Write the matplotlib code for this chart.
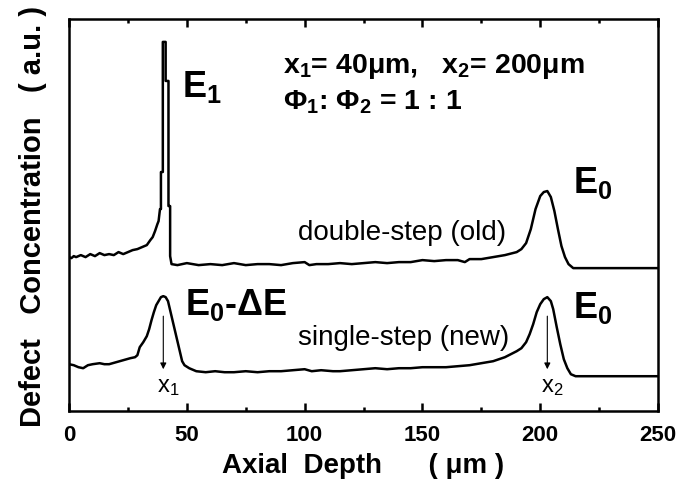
import numpy as np
import matplotlib.pyplot as plt
from matplotlib.ticker import MultipleLocator

plt.rcParams['font.family'] = ['Liberation Sans', 'DejaVu Sans']
plt.rcParams['mathtext.fontset'] = 'custom'
plt.rcParams['mathtext.rm'] = 'Liberation Sans'
plt.rcParams['mathtext.bf'] = 'Liberation Sans:bold'
plt.rcParams['mathtext.it'] = 'Liberation Sans:italic'

# double-step (old) profile (a.u.)
old_x = [0, 1, 2, 3, 5, 7, 9, 11, 13, 15, 17, 19, 21, 23, 25, 27, 29, 31, 33,
         34.5, 35.5, 36.5, 37.5, 38, 38.6, 39, 39, 39.8, 39.8, 41, 41, 42.2, 42.2,
         42.9, 42.9, 43.5, 46, 50, 55, 60, 65, 70, 75, 80, 85, 90, 95, 100, 102,
         105, 110, 115, 120, 125, 130, 135, 140, 145, 150, 155, 160, 165, 168, 170,
         175, 180, 185, 190, 192, 194, 196, 198, 200, 201.5, 203, 204.5, 206, 207.5,
         209, 210.5, 212, 214, 250]
old_y = [154, 153, 155, 154, 156, 154, 157, 155, 158, 156, 157, 156, 159, 157, 159,
         161, 162, 164, 166, 171, 174, 180, 187, 190, 202, 202, 239, 239, 369, 369,
         330, 330, 205, 205, 155, 147, 146, 148, 146, 147, 146, 148, 146, 147, 147,
         146, 148, 149, 146, 147, 147, 148, 147, 148, 149, 148, 149, 149, 151, 150,
         151, 151, 149, 152, 152, 154, 156, 159, 162, 168, 182, 202, 215, 219, 220,
         214, 200, 182, 165, 154, 147, 143, 143]

# single-step (new) profile
new_x = [0, 2, 4, 6, 8, 10, 13, 15, 17, 20, 23, 26, 28, 29, 30, 31.5, 33, 34, 35,
         36, 37, 38, 39, 40, 41, 42, 43, 44, 45, 46, 47, 48, 49, 51, 54, 58, 62, 66,
         70, 75, 80, 85, 90, 95, 100, 103, 107, 112, 115, 120, 125, 130, 135, 140,
         145, 150, 155, 160, 165, 170, 175, 180, 185, 190, 192, 194, 195.5, 197,
         198.5, 200, 201.5, 203, 204.5, 205.5, 207, 208.5, 210, 211.5, 213, 215, 250]
new_y = [47, 46, 44, 43, 46, 47, 48, 47, 47, 49, 51, 53, 54, 56, 64, 69, 75, 82, 91,
         99, 106, 110, 114, 115, 114, 110, 100, 90, 80, 70, 60, 50, 46, 43, 40, 39,
         40, 39, 39, 40, 39, 40, 40, 41, 42, 40, 41, 40, 40, 41, 42, 43, 42, 43, 43,
         44, 44, 44, 45, 46, 48, 50, 54, 60, 63, 69, 77, 87, 99, 107, 112, 114, 110,
         102, 84, 67, 52, 43, 37, 35, 35]

x_marks = [40, 203]
x_mark_labels = ['$\\mathrm{x_1}$', '$\\mathrm{x_2}$']

fig = plt.figure(figsize=(6.77, 4.85), dpi=100)
ax = fig.add_axes([0.102, 0.150, 0.870, 0.809])

ax.plot(old_x, old_y, color='black', lw=1.8)
ax.plot(new_x, new_y, color='black', lw=1.8)

for xm, lab in zip(x_marks, x_mark_labels):
    ax.annotate('', xy=(xm, 42), xytext=(xm, 95),
                arrowprops=dict(arrowstyle='-|>', lw=0.8, color='black',
                                mutation_scale=9, shrinkA=0, shrinkB=0))
    ax.text(xm - 2.5, 20, lab, fontsize=17, ha='left', va='baseline')

ax.text(47.9, 315, '$\\mathbf{E_1}$', fontsize=26, va='baseline')
ax.text(49.2, 97, '$\\mathbf{E_0}$-ΔE', fontsize=26, fontweight='bold', va='baseline')
ax.text(214, 219, '$\\mathbf{E_0}$', fontsize=26, va='baseline')
ax.text(214, 94, '$\\mathbf{E_0}$', fontsize=26, va='baseline')

ax.text(91, 339, '$\\mathbf{x_1}$= 40μm,   $\\mathbf{x_2}$= 200μm',
        fontsize=20.5, fontweight='bold', va='baseline')
ax.text(91, 302, '$\\mathbf{Φ_1}$: $\\mathbf{Φ_2}$ = 1 : 1',
        fontsize=20.5, fontweight='bold', va='baseline')

ax.text(97.2, 172, 'double-step (old)', fontsize=20, va='baseline')
ax.text(97.2, 67, 'single-step (new)', fontsize=20, va='baseline')

ax.set_xlim(0, 250)
ax.set_ylim(0, 392)
ax.xaxis.set_major_locator(MultipleLocator(50))
ax.xaxis.set_minor_locator(MultipleLocator(25))
ax.tick_params(axis='x', which='both', direction='in', top=True, bottom=True,
               width=1.8, labelsize=16, pad=9)
ax.tick_params(axis='x', which='major', length=6)
ax.tick_params(axis='x', which='minor', length=3)
ax.set_yticks([])
for lab in ax.get_xticklabels():
    lab.set_fontweight('bold')
for sp in ax.spines.values():
    sp.set_linewidth(1.8)

ax.set_xlabel('Axial  Depth      ( μm )', fontsize=20, fontweight='bold', labelpad=5)
ax.set_ylabel('Defect   Concentration   ( a.u. )', fontsize=21, fontweight='bold',
              labelpad=16)

fig.savefig('out.png', dpi=100)
